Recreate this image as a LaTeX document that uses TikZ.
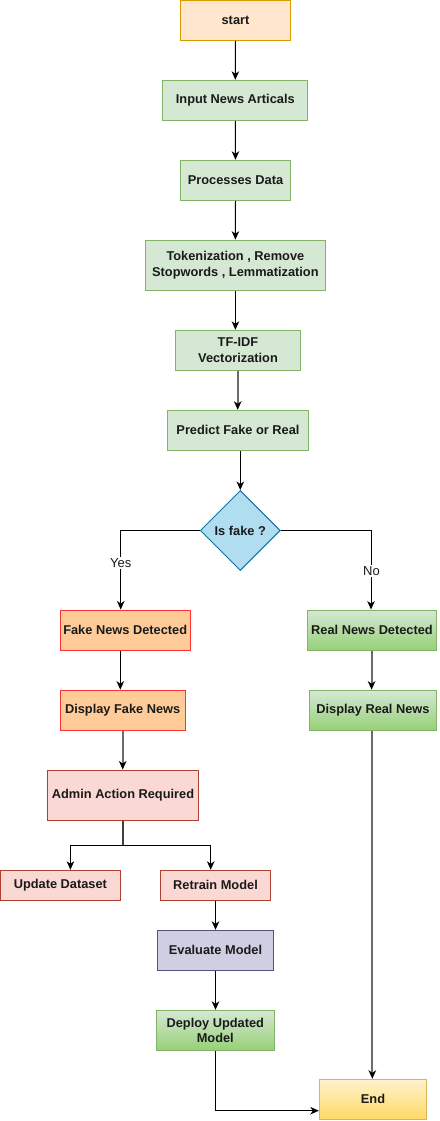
\documentclass[tikz,border=0pt]{standalone}
\usepackage{fontspec}
\setmainfont{Liberation Sans}
\usetikzlibrary{shapes.geometric,arrows.meta,calc}
\definecolor{startfill}{HTML}{FFE6CC}
\definecolor{startdraw}{HTML}{D79B00}
\definecolor{gfill}{HTML}{D5E8D4}
\definecolor{gdraw}{HTML}{82B366}
\definecolor{gbot}{HTML}{97D077}
\definecolor{bfill}{HTML}{B1DDF0}
\definecolor{bdraw}{HTML}{10739E}
\definecolor{ofill}{HTML}{FFCC99}
\definecolor{odraw}{HTML}{FF3333}
\definecolor{pfill}{HTML}{FAD9D5}
\definecolor{pdraw}{HTML}{AE4132}
\definecolor{vfill}{HTML}{D0CEE2}
\definecolor{vdraw}{HTML}{56517E}
\definecolor{yfill}{HTML}{FFF2CC}
\definecolor{ybot}{HTML}{FFD966}
\definecolor{ydraw}{HTML}{D6B656}
\definecolor{txt}{HTML}{1A1A1A}
\tikzset{
  base/.style={rectangle, line width=1pt, inner sep=0pt, align=center, text=txt,
    font=\bfseries\fontsize{12.8}{15.7}\selectfont},
  startbox/.style={base, draw=startdraw, fill=startfill},
  greenbox/.style={base, draw=gdraw, fill=gfill},
  gradbox/.style={base, draw=gdraw, top color=gfill, bottom color=gbot},
  orangebox/.style={base, draw=odraw, fill=ofill},
  pinkbox/.style={base, draw=pdraw, fill=pfill},
  violetbox/.style={base, draw=vdraw, fill=vfill},
  endbox/.style={base, draw=ydraw, top color=yfill, bottom color=ybot},
  decision/.style={diamond, aspect=1, line width=1pt, inner sep=0pt, draw=bdraw, fill=bfill,
    text=txt, font=\bfseries\fontsize{12.8}{15.7}\selectfont},
  conn/.style={line width=1pt, draw=black, -{Stealth[length=8.5pt,width=7.5pt,inset=2.5pt]}},
  gconn/.style={line width=1.8pt, draw=black!58, -{Stealth[length=8.5pt,width=7.5pt,inset=2.5pt,black]}},
  lbl/.style={fill=white, inner sep=1pt, text=txt, font=\fontsize{13}{15}\selectfont}
}
\begin{document}
\begin{tikzpicture}[x=1pt,y=-1pt]
\useasboundingbox (0,0) rectangle (439,1121);
\node[startbox, minimum width=110pt, minimum height=40pt] (start) at (235.5,20.5) {start};
\node[greenbox, minimum width=145pt, minimum height=40pt] (input) at (235.3,100.3) {Input News Articals};
\node[greenbox, minimum width=110pt, minimum height=40pt] (proc) at (235.5,180.3) {Processes Data};
\node[greenbox, minimum width=180.5pt, minimum height=50pt] (tok) at (235.4,265.2) {Tokenization , Remove\\Stopwords , Lemmatization};
\node[greenbox, minimum width=125pt, minimum height=40pt] (tfidf) at (238,350.3) {TF-IDF\\Vectorization};
\node[greenbox, minimum width=140.5pt, minimum height=40pt] (pred) at (238,430.3) {Predict Fake or Real};
\node[decision, minimum width=80pt, minimum height=80pt] (dia) at (240.3,530.5) {Is fake ?};
\node[orangebox, minimum width=130pt, minimum height=40.5pt] (fake) at (125.2,630.3) {Fake News Detected};
\node[gradbox, minimum width=129.4pt, minimum height=40.5pt] (real) at (372,630.3) {Real News Detected};
\node[orangebox, minimum width=125.3pt, minimum height=40pt] (dfake) at (122.7,710.2) {Display Fake News};
\node[gradbox, minimum width=127.4pt, minimum height=40pt] (dreal) at (373,710.2) {Display Real News};
\node[pinkbox, minimum width=150.5pt, minimum height=50.5pt] (admin) at (123,795.3) {Admin Action Required};
\node[pinkbox, minimum width=119.8pt, minimum height=30pt] (upd) at (60.4,885.3) {Update Dataset};
\node[pinkbox, minimum width=110.4pt, minimum height=30pt] (retrain) at (215.5,885.3) {Retrain Model};
\node[violetbox, minimum width=115.6pt, minimum height=40pt] (eval) at (215.5,950.3) {Evaluate Model};
\node[gradbox, minimum width=118pt, minimum height=40pt] (deploy) at (215.3,1030.3) {Deploy Updated\\Model};
\node[endbox, minimum width=107.4pt, minimum height=40pt] (end) at (373,1099.3) {End};
% connectors
\draw[conn] (start.south) -- (input.north);
\draw[conn] (input.south) -- (proc.north);
\draw[conn] (proc.south) -- (tok.north);
\draw[conn] (tok.south) -- (tok.south |- tfidf.north);
\draw[gconn] ([xshift=-0.3pt]tfidf.south) -- ([xshift=-0.3pt]pred.north);
\draw[conn] (pred.south -| dia.north) -- (dia.north);
\coordinate (yesx) at ([xshift=-4.5pt]fake.north);
\draw[conn] (dia.west) -| (yesx);
\node[lbl] (yes) at (120.7,563) {Yes};
\draw[conn] (dia.east) -| ([xshift=-1pt]real.north);
\node[lbl] (no) at (371.5,571) {No};
\draw[conn] ([xshift=-4.9pt]fake.south) -- ([xshift=-2.4pt]dfake.north);
\draw[gconn] ([xshift=-0.4pt]real.south) -- ([xshift=-0.4pt]real.south |- dreal.north);
\draw[gconn] (dfake.south) -- (dfake.south |- admin.north);
\coordinate (split) at ($(admin.south)+(0,24.6)$);
\draw[line width=1.6pt, draw=black!75] (admin.south) -- (split);
\draw[conn] (split) -| ([xshift=10pt]upd.north);
\draw[conn] (split) -| ([xshift=-4.8pt]retrain.north);
\draw[conn] (retrain.south) -- (eval.north);
\draw[conn] (eval.south) -- (eval.south |- deploy.north);
\draw[conn] (deploy.south) |- ([yshift=-11.4pt]end.west);
\draw[gconn] ([xshift=-0.7pt]dreal.south) -- ([xshift=-0.7pt]end.north);
\end{tikzpicture}
\end{document}
